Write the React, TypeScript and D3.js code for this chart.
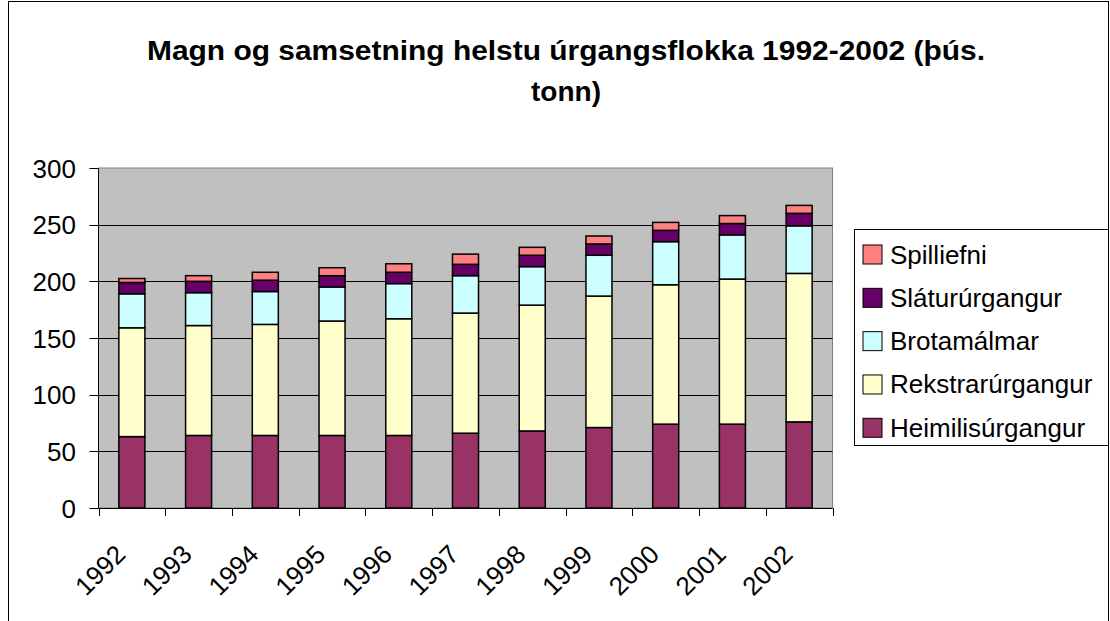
import React from 'react';
import * as d3 from 'd3';

const years = ['1992', '1993', '1994', '1995', '1996', '1997', '1998', '1999', '2000', '2001', '2002'];
const heimilisurgangur = [63, 64, 64, 64, 64, 66, 68, 71, 74, 74, 76];
const rekstrarurgangur = [96, 97, 98, 101, 103, 106, 111, 116, 123, 128, 131];
const brotamalmar = [30, 29, 29, 30, 31, 33, 34, 36, 38, 39, 42];
const slaturugangur = [10, 10, 10, 10, 10, 10, 10, 10, 10, 10, 11];
const spilliefni = [3.5, 5, 7, 7, 7.5, 9, 7, 7, 7, 7, 7];
const yTicks = [0, 50, 100, 150, 200, 250, 300];

const seriesNames = ['Heimilisúrgangur', 'Rekstrarúrgangur', 'Brotamálmar', 'Sláturúrgangur', 'Spilliefni'];
const seriesValues = [heimilisurgangur, rekstrarurgangur, brotamalmar, slaturugangur, spilliefni];
const seriesColors = ['#993366', '#FFFFCC', '#CCFFFF', '#660066', '#FF8080'];

const W = 1110;
const H = 621;
const plot = { left: 98.5, right: 832.5, top: 168, bottom: 508 };
const font = '"Liberation Sans", Arial, sans-serif';

const App: React.FC = () => {
    const x = d3.scaleBand<string>()
        .domain(years)
        .range([plot.left, plot.right])
        .paddingInner(0.61)
        .paddingOuter(0.305);

    const y = d3.scaleLinear()
        .domain([0, 300])
        .range([plot.bottom, plot.top]);

    // stack the series on top of each other
    const rows = years.map((yr, i) => {
        const row: Record<string, number | string> = { year: yr };
        seriesNames.forEach((n, k) => { row[n] = seriesValues[k][i]; });
        return row;
    });
    const stacked = d3.stack<Record<string, number | string>>().keys(seriesNames)(rows);

    const step = x.step();
    const boundaries = d3.range(years.length + 1).map(i => plot.left + i * step);

    const legendItems = seriesNames.map((n, k) => ({ name: n, color: seriesColors[k] })).reverse();
    const legendY = d3.scalePoint<string>()
        .domain(legendItems.map(d => d.name))
        .range([254.5, 427.8]);

    return (
        <svg width={W} height={H} style={{ position: 'absolute', left: 0, top: 0, background: '#fff' }}>
            {/* chart frame */}
            <rect x={8.5} y={1.5} width={1100} height={660} fill="#fff" stroke="#000" strokeWidth={1} />

            {/* title */}
            <text x={566} y={60} textAnchor="middle" fontFamily={font} fontWeight="bold" fontSize={28}
                textLength={838} lengthAdjust="spacingAndGlyphs">
                Magn og samsetning helstu úrgangsflokka 1992-2002 (þús.
            </text>
            <text x={566} y={101} textAnchor="middle" fontFamily={font} fontWeight="bold" fontSize={28}>
                tonn)
            </text>

            {/* plot area */}
            <rect x={plot.left} y={plot.top} width={plot.right - plot.left} height={plot.bottom - plot.top}
                fill="#C0C0C0" stroke="#808080" strokeWidth={1} />

            {/* grid lines */}
            {yTicks.filter(t => t > 0 && t < 300).map(t => (
                <line key={t} x1={plot.left} x2={plot.right} y1={Math.round(y(t)) + 0.5} y2={Math.round(y(t)) + 0.5}
                    stroke="#000" strokeWidth={1} />
            ))}

            {/* bars */}
            {stacked.map((layer, k) => (
                <g key={layer.key}>
                    {layer.map((d, i) => (
                        <rect key={i}
                            x={x(years[i])}
                            y={y(d[1])}
                            width={x.bandwidth()}
                            height={y(d[0]) - y(d[1])}
                            fill={seriesColors[k]}
                            stroke="#000"
                            strokeWidth={1.5} />
                    ))}
                </g>
            ))}

            {/* y axis */}
            <line x1={plot.left} x2={plot.left} y1={plot.top} y2={plot.bottom} stroke="#000" />
            {yTicks.map(t => (
                <g key={t}>
                    <line x1={plot.left - 9} x2={plot.left} y1={Math.round(y(t)) + 0.5} y2={Math.round(y(t)) + 0.5} stroke="#000" />
                    <text x={76} y={y(t) + 9.5} textAnchor="end" fontFamily={font} fontSize={26}>{t}</text>
                </g>
            ))}

            {/* x axis */}
            <line x1={plot.left} x2={plot.right} y1={plot.bottom + 0.5} y2={plot.bottom + 0.5} stroke="#000" />
            {boundaries.map((b, i) => (
                <line key={i} x1={Math.round(b) + 0.5} x2={Math.round(b) + 0.5} y1={plot.bottom} y2={plot.bottom + 8} stroke="#000" />
            ))}
            {years.map(yr => {
                const cx = (x(yr) as number) + x.bandwidth() / 2;
                return (
                    <text key={yr} transform={`translate(${cx - 5},${556}) rotate(-45)`} textAnchor="end"
                        fontFamily={font} fontSize={26}>{yr}</text>
                );
            })}

            {/* legend */}
            <rect x={854.5} y={229.5} width={254} height={216} fill="#fff" stroke="#000" strokeWidth={1} />
            {legendItems.map(item => {
                const cy = legendY(item.name) as number;
                return (
                    <g key={item.name}>
                        <rect x={863} y={cy - 9.5} width={19} height={19} fill={item.color} stroke="#000" strokeWidth={1} />
                        <text x={890} y={cy + 9} fontFamily={font} fontSize={26}>{item.name}</text>
                    </g>
                );
            })}
        </svg>
    );
};

export default App;
